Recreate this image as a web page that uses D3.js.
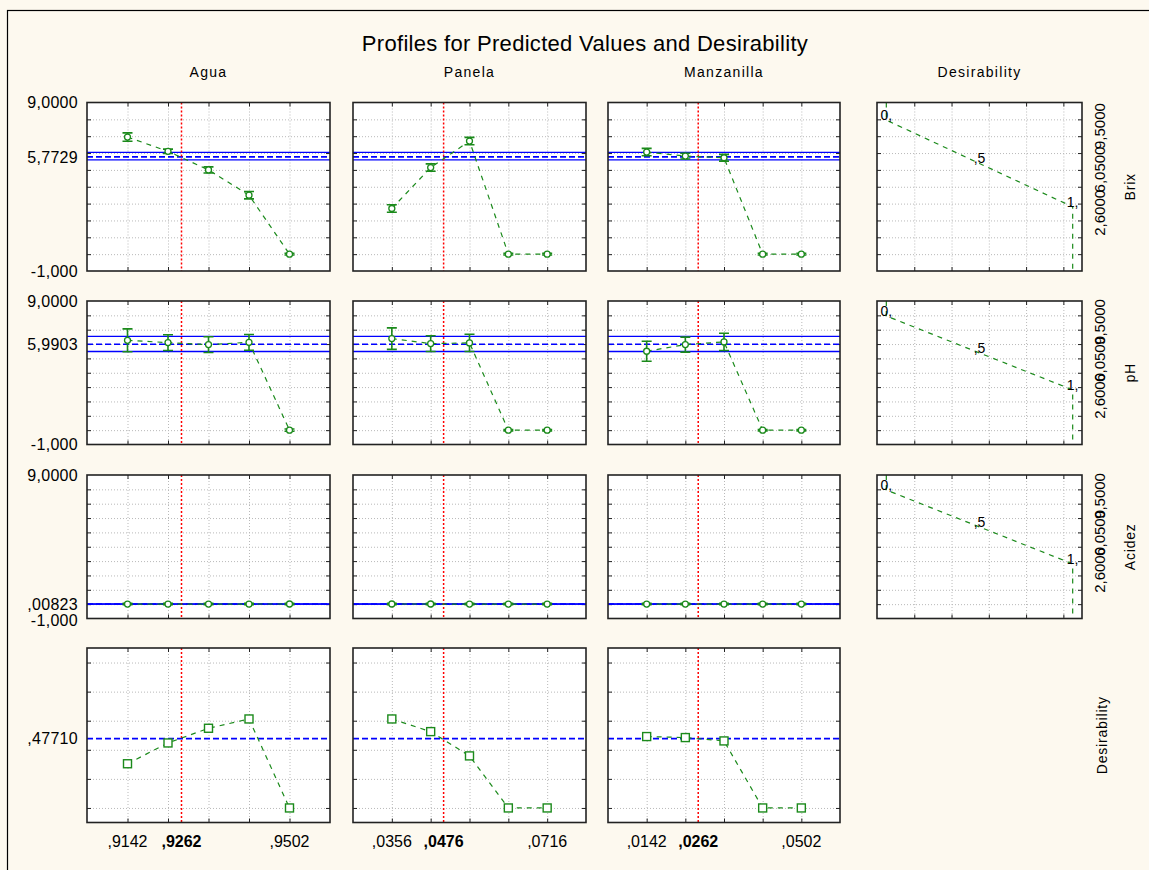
<!DOCTYPE html>
<meta charset="utf-8">
<style>
body { margin: 0; background: #fdf9ef; }
svg { display: block; font-family: "Liberation Sans", Arial, sans-serif; }
.grid line { stroke: #b9b9b9; stroke-dasharray: 1,2; }
.grid path { display: none; }
.ticks path { display: none; }
.ticks line { stroke: #222; }
</style>
<body>
<div id="chart"></div>
<script src="https://d3js.org/d3.v7.min.js"></script>
<script>

// Factors, their five levels and the current setting (red line)
var factors = ["Agua", "Panela", "Manzanilla"];
var aguaLevels = [0.9142, 0.9232, 0.9322, 0.9412, 0.9502];
var panelaLevels = [0.0356, 0.0446, 0.0536, 0.0626, 0.0716];
var manzanillaLevels = [0.0142, 0.0232, 0.0322, 0.0412, 0.0502];
var currentLevels = [0.9262, 0.0476, 0.0262];
var xTickLabels = [[",9142", ",9262", ",9502"], [",0356", ",0476", ",0716"], [",0142", ",0262", ",0502"]];

// Responses, predicted value at current setting and its interval
var responses = ["Brix", "pH", "Acidez"];
var predicted = [5.7729, 5.9903, 0.00823];
var predictedLabels = ["5,7729", "5,9903", ",00823"];
var ciLow = [5.60, 5.48, 0.004];
var ciHigh = [6.04, 6.54, 0.012];
var yTopLabel = "9,0000";
var yBottomLabel = "-1,000";

// Profiles (predicted value at each level) and error bar half widths
var brixAgua = [6.95, 6.10, 5.00, 3.50, 0.00];
var brixAguaErr = [0.25, 0.13, 0.18, 0.22, 0.05];
var brixPanela = [2.71, 5.14, 6.71, 0.00, 0.00];
var brixPanelaErr = [0.22, 0.22, 0.22, 0.05, 0.05];
var brixManzanilla = [6.06, 5.82, 5.72, 0.00, 0.00];
var brixManzanillaErr = [0.22, 0.17, 0.20, 0.05, 0.05];

var phAgua = [6.26, 6.10, 5.96, 6.12, 0.00];
var phAguaErr = [0.80, 0.55, 0.55, 0.55, 0.08];
var phPanela = [6.38, 6.03, 6.08, 0.00, 0.00];
var phPanelaErr = [0.75, 0.55, 0.60, 0.05, 0.05];
var phManzanilla = [5.50, 5.96, 6.15, 0.00, 0.00];
var phManzanillaErr = [0.70, 0.52, 0.60, 0.05, 0.05];

var acidezAgua = [0.008, 0.008, 0.008, 0.008, 0.012];
var acidezAguaErr = [0.05, 0.05, 0.05, 0.05, 0.05];
var acidezPanela = [0.010, 0.009, 0.008, 0.008, 0.008];
var acidezPanelaErr = [0.05, 0.05, 0.05, 0.05, 0.05];
var acidezManzanilla = [0.008, 0.008, 0.008, 0.008, 0.008];
var acidezManzanillaErr = [0.05, 0.05, 0.05, 0.05, 0.05];

// Overall desirability profiles
var desAgua = [0.304, 0.447, 0.548, 0.612, 0.000];
var desPanela = [0.612, 0.525, 0.358, 0.000, 0.000];
var desManzanilla = [0.491, 0.484, 0.461, 0.000, 0.000];
var desPredicted = 0.4771;
var desPredictedLabel = ",47710";

// Desirability function of each response (same for all three)
var desBreaks = [9.5, 6.05, 2.6];
var desBreakLabels = ["9,5000", "6,0500", "2,6000"];
var desScores = [0, 0.5, 1];
var desScoreLabels = ["0,", ",5", "1,"];

// tables built from the arrays above
var levels = [aguaLevels, panelaLevels, manzanillaLevels];
var profiles = [
  [[brixAgua, brixAguaErr], [brixPanela, brixPanelaErr], [brixManzanilla, brixManzanillaErr]],
  [[phAgua, phAguaErr], [phPanela, phPanelaErr], [phManzanilla, phManzanillaErr]],
  [[acidezAgua, acidezAguaErr], [acidezPanela, acidezPanelaErr], [acidezManzanilla, acidezManzanillaErr]]
];
var desProfiles = [desAgua, desPanela, desManzanilla];

// Layout of the grid of panels
var colX = [87, 353, 608], colW = [243, 233, 232];
var desX = 877, desW = 205;
var rowY = [102.5, 301, 475, 648], rowH = [168.5, 143.5, 143.5, 174.5];

var green = "#1b8a1b", blue = "#0000ff", red = "#ff0000";

var svg = d3.select("#chart")
  .append("svg")
    .attr("width", 1149)
    .attr("height", 870);

// outer frame
svg.append("rect")
  .attr("x", 7.5).attr("y", 10.5)
  .attr("width", 1200).attr("height", 900)
  .style("fill", "#fdf9ef")
  .style("stroke", "#000")
  .style("stroke-width", 1.2);

// title and column headings
svg.append("text")
  .attr("x", 585).attr("y", 51)
  .attr("text-anchor", "middle")
  .style("font-size", "22px")
  .style("letter-spacing", "0.3px")
  .text("Profiles for Predicted Values and Desirability");

var headX = [colX[0] + colW[0] / 2, colX[1] + colW[1] / 2, colX[2] + colW[2] / 2, desX + desW / 2];
svg.selectAll(".head")
  .data(factors.concat(["Desirability"]))
  .enter()
  .append("text")
    .attr("x", function(d, i) { return headX[i]; })
    .attr("y", 77)
    .attr("text-anchor", "middle")
    .style("font-size", "14px")
    .style("letter-spacing", "1.3px")
    .text(function(d) { return d; });

// draws background, grid and inward ticks of one panel
function panelFrame(x, y, w, h, xs, ys, xGrid, yGrid) {
  var g = svg.append("g");
  g.append("rect")
    .attr("x", x).attr("y", y).attr("width", w).attr("height", h)
    .style("fill", "#fff");
  g.append("g").attr("class", "grid")
    .attr("transform", "translate(" + x + ",0)")
    .call(d3.axisLeft(ys).tickValues(yGrid).tickSize(-w).tickFormat(""));
  g.append("g").attr("class", "grid")
    .attr("transform", "translate(0," + y + ")")
    .call(d3.axisTop(xs).tickValues(xGrid).tickSize(-h).tickFormat(""));
  g.append("g").attr("class", "ticks")
    .attr("transform", "translate(" + x + ",0)")
    .call(d3.axisLeft(ys).tickValues(yGrid).tickSize(-4).tickFormat(""));
  g.append("g").attr("class", "ticks")
    .attr("transform", "translate(" + (x + w) + ",0)")
    .call(d3.axisRight(ys).tickValues(yGrid).tickSize(-4).tickFormat(""));
  g.append("g").attr("class", "ticks")
    .attr("transform", "translate(0," + y + ")")
    .call(d3.axisTop(xs).tickValues(xGrid).tickSize(-4).tickFormat(""));
  g.append("g").attr("class", "ticks")
    .attr("transform", "translate(0," + (y + h) + ")")
    .call(d3.axisBottom(xs).tickValues(xGrid).tickSize(-4).tickFormat(""));
  return g;
}

function hline(g, xs, ys, v, color, dash, width) {
  g.append("line")
    .attr("x1", xs.range()[0]).attr("x2", xs.range()[1])
    .attr("y1", ys(v)).attr("y2", ys(v))
    .style("stroke", color)
    .style("stroke-width", width)
    .style("stroke-dasharray", dash);
}

function border(g, x, y, w, h) {
  g.append("rect")
    .attr("x", x).attr("y", y).attr("width", w).attr("height", h)
    .style("fill", "none")
    .style("stroke", "#222")
    .style("stroke-width", 1.6);
}

var line = d3.line();

for (var r = 0; r < 4; r++) {
  var y0 = rowY[r], h = rowH[r];
  var ys = r < 3
    ? d3.scaleLinear().domain([-1, 9]).range([y0 + h, y0])
    : d3.scaleLinear().domain([-0.1, 1.1]).range([y0 + h, y0]);
  var yGrid = r < 3 ? d3.range(0, 9) : [0, 0.2, 0.4, 0.6, 0.8, 1.0];

  for (var c = 0; c < 3; c++) {
    var lv = levels[c];
    var step = lv[1] - lv[0];
    var xs = d3.scaleLinear()
      .domain([lv[0] - step, lv[4] + step])
      .range([colX[c], colX[c] + colW[c]]);
    var g = panelFrame(colX[c], y0, colW[c], h, xs, ys, lv, yGrid);

    var vals, errs;
    if (r < 3) {
      vals = profiles[r][c][0];
      errs = profiles[r][c][1];
      hline(g, xs, ys, ciHigh[r], blue, "none", 1.3);
      hline(g, xs, ys, ciLow[r], blue, "none", 1.3);
      hline(g, xs, ys, predicted[r], blue, "6,3", 1.6);
    } else {
      vals = desProfiles[c];
      hline(g, xs, ys, desPredicted, blue, "6,3", 1.6);
    }

    // current setting
    g.append("line")
      .attr("x1", xs(currentLevels[c])).attr("x2", xs(currentLevels[c]))
      .attr("y1", y0).attr("y2", y0 + h)
      .style("stroke", red)
      .style("stroke-width", 1.5)
      .style("stroke-dasharray", "2,2");

    var pts = lv.map(function(d, i) { return [xs(d), ys(vals[i])]; });
    g.append("path")
      .attr("d", line(pts))
      .style("fill", "none")
      .style("stroke", green)
      .style("stroke-width", 1.2)
      .style("stroke-dasharray", "5,5");

    if (r < 3) {
      // error bars and circles
      var eb = g.selectAll(".eb" + r + c)
        .data(lv)
        .enter()
        .append("g");
      eb.append("path")
        .attr("d", function(d, i) {
          var x = xs(d), a = ys(vals[i] + errs[i]), b = ys(vals[i] - errs[i]);
          return "M" + (x - 5) + "," + a + "H" + (x + 5) + "M" + x + "," + a + "V" + b + "M" + (x - 5) + "," + b + "H" + (x + 5);
        })
        .style("fill", "none")
        .style("stroke", green)
        .style("stroke-width", 1.6);
      eb.append("circle")
        .attr("cx", function(d) { return xs(d); })
        .attr("cy", function(d, i) { return ys(vals[i]); })
        .attr("r", 3)
        .style("fill", "#fff")
        .style("stroke", green)
        .style("stroke-width", 1.3);
    } else {
      g.selectAll(".sq" + c)
        .data(lv)
        .enter()
        .append("rect")
          .attr("x", function(d) { return xs(d) - 4; })
          .attr("y", function(d, i) { return ys(vals[i]) - 4; })
          .attr("width", 8).attr("height", 8)
          .style("fill", "#fff")
          .style("stroke", green)
          .style("stroke-width", 1.4);

      // x tick labels under the bottom row
      var tv = [lv[0], currentLevels[c], lv[4]];
      svg.selectAll(".xl" + c)
        .data(tv)
        .enter()
        .append("text")
          .attr("x", function(d) { return xs(d); })
          .attr("y", 847)
          .attr("text-anchor", "middle")
          .style("font-size", "16px")
          .style("font-weight", function(d, i) { return i == 1 ? "bold" : "normal"; })
          .text(function(d, i) { return xTickLabels[c][i]; });
    }
    border(g, colX[c], y0, colW[c], h);
  }

  // y labels on the left
  var yl = r < 3
    ? [[9, yTopLabel, 0], [predicted[r], predictedLabels[r], 0], [-1, yBottomLabel, r == 2 ? 2 : 0]]
    : [[desPredicted, desPredictedLabel, 0]];
  svg.selectAll(".yl" + r)
    .data(yl)
    .enter()
    .append("text")
      .attr("x", colX[0] - 9)
      .attr("y", function(d) { return ys(d[0]) + d[2]; })
      .attr("dy", "0.36em")
      .attr("text-anchor", "end")
      .style("font-size", "16px")
      .style("letter-spacing", "0.3px")
      .text(function(d) { return d[1]; });

  // desirability function column
  if (r < 3) {
    var xd = d3.scaleLinear().domain([-0.05, 1.05]).range([desX, desX + desW]);
    var yd = d3.scaleLinear().domain([-2.5, 10.9]).range([y0 + h, y0]);
    var xg = d3.scaleLinear().domain([0, 5.5]).range([desX, desX + desW]);
    var gd = panelFrame(desX, y0, desW, h, xg, ys, [1, 2, 3, 4, 5], yGrid);

    var curve = [[0, yd.domain()[1]]]
      .concat(desScores.map(function(d, i) { return [d, desBreaks[i]]; }))
      .concat([[1, yd.domain()[0]]]);
    gd.append("path")
      .attr("d", line(curve.map(function(p) { return [xd(p[0]), yd(p[1])]; })))
      .style("fill", "none")
      .style("stroke", green)
      .style("stroke-width", 1.2)
      .style("stroke-dasharray", "5,5");
    gd.selectAll(".sl")
      .data(desScores)
      .enter()
      .append("text")
        .attr("x", function(d) { return xd(d); })
        .attr("y", function(d, i) { return yd(desBreaks[i]); })
        .attr("text-anchor", "middle")
        .style("font-size", "14px")
        .text(function(d, i) { return desScoreLabels[i]; });
    border(gd, desX, y0, desW, h);

    // overlapping value labels on the right
    svg.selectAll(".bl" + r)
      .data(desBreaks)
      .enter()
      .append("text")
        .attr("transform", function(d) { return "translate(1100," + (yd(d) + 6) + ")rotate(-90)"; })
        .attr("dy", "0.36em")
        .attr("text-anchor", "middle")
        .style("font-size", "15px")
        .text(function(d, i) { return desBreakLabels[i]; });
  }

  // response name on the far right
  svg.append("text")
    .attr("transform", "translate(" + (r < 3 ? 1130 : 1102) + "," + (y0 + h / 2) + ")rotate(-90)")
    .attr("dy", "0.36em")
    .attr("text-anchor", "middle")
    .style("font-size", "14px")
    .style("letter-spacing", "0.8px")
    .text(r < 3 ? responses[r] : "Desirability");
}

</script>
</body>
